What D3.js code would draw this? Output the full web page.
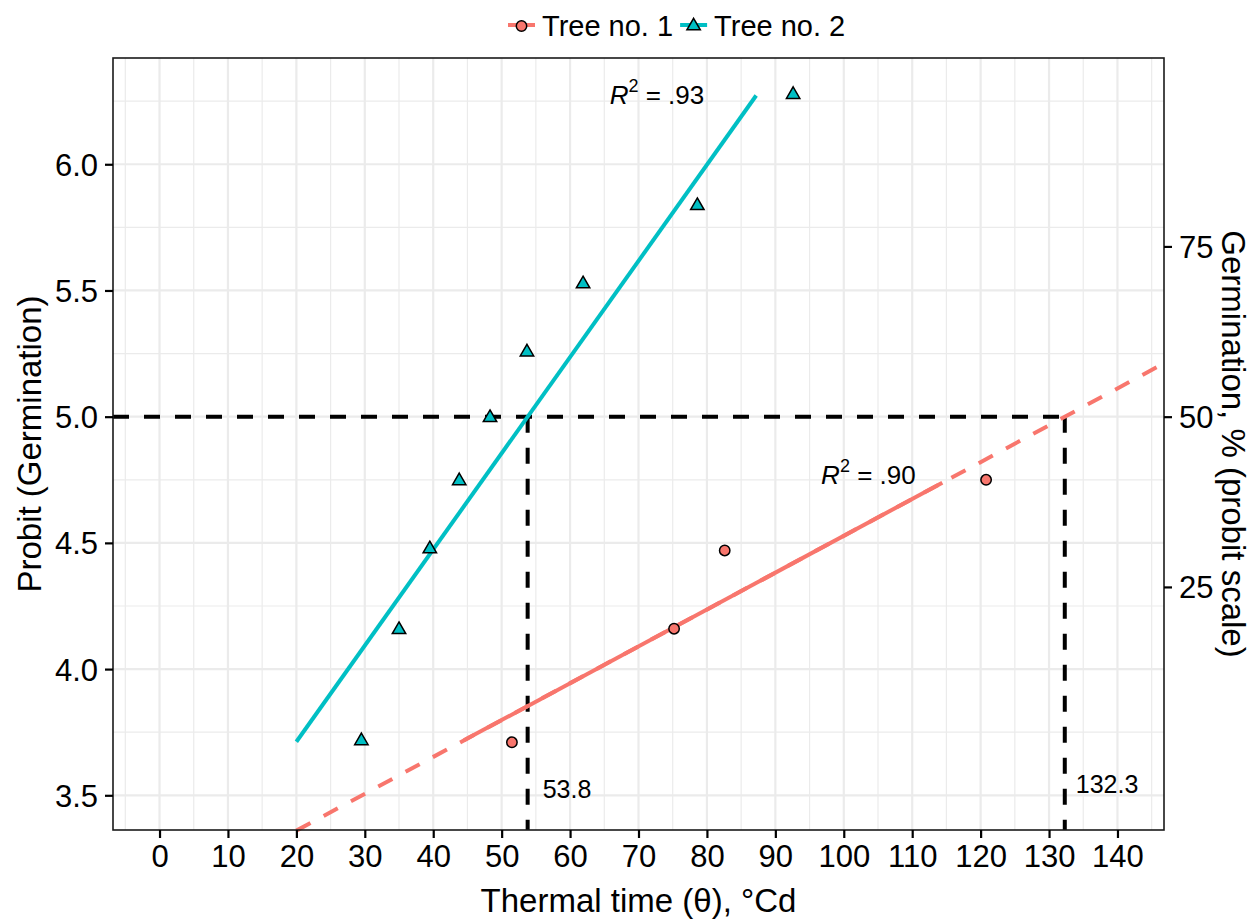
<!DOCTYPE html>
<html>
<head>
<meta charset="utf-8">
<script src="https://cdn.jsdelivr.net/npm/d3@7"></script>
<style>
  html, body { margin: 0; padding: 0; background: #fff; overflow: hidden; }
  svg { display: block; }
  text { font-family: "Liberation Sans", Arial, sans-serif; }
</style>
</head>
<body>
<div id="chart"></div>
<script>
// data
const tree1Time = [51.5, 75.2, 82.6, 120.8];
const tree1Probit = [3.71, 4.16, 4.47, 4.75];
const tree2Time = [29.5, 35.0, 39.5, 43.8, 48.3, 53.7, 61.9, 78.6, 92.6];
const tree2Probit = [3.72, 4.16, 4.48, 4.75, 5.00, 5.26, 5.53, 5.84, 6.28];

// fitted lines (intercept, slope) and the x span they cover
const tree1Fit = [3.068, 0.0146];
const tree1Solid = [44.5, 114.4];
const tree1Dashed = [20, 146.8];
const tree2Fit = [2.950, 0.0381];
const tree2Solid = [20, 87.2];

const t50 = [53.8, 132.3];
const t50Labels = ["53.8", "132.3"];
const r2Labels = [".90", ".93"];

const xTicks = [0, 10, 20, 30, 40, 50, 60, 70, 80, 90, 100, 110, 120, 130, 140];
const yTicks = [3.5, 4.0, 4.5, 5.0, 5.5, 6.0];
const pctTicks = [25, 50, 75];

const width = 1252, height = 921;
const margin = {top: 58, right: 88, bottom: 91, left: 113};
const innerWidth = width - margin.left - margin.right;
const innerHeight = height - margin.top - margin.bottom;

const red = "#F8766D", teal = "#00BFC4";
const tickFont = 31;

// probit helpers
const normCdf = z => {
  const x = Math.abs(z) / Math.SQRT2;
  const t = 1 / (1 + 0.3275911 * x);
  const erf = 1 - (((((1.061405429 * t - 1.453152027) * t) + 1.421413741) * t - 0.284496736) * t + 0.254829592) * t * Math.exp(-x * x);
  return z >= 0 ? 0.5 * (1 + erf) : 0.5 * (1 - erf);
};
const qnorm = p => {
  let lo = -8, hi = 8;
  for (let i = 0; i < 80; i++) {
    const mid = (lo + hi) / 2;
    if (normCdf(mid) < p) lo = mid; else hi = mid;
  }
  return (lo + hi) / 2;
};

const svg = d3.select("#chart")
  .append("svg")
    .attr("width", width)
    .attr("height", height);

const xScale = d3.scaleLinear()
  .domain([-6.8, 146.8])
  .range([0, innerWidth]);

const yScale = d3.scaleLinear()
  .domain([3.3625, 6.421])
  .range([innerHeight, 0]);

const innerChart = svg.append("g")
  .attr("transform", `translate(${margin.left}, ${margin.top})`);

// grid
const xMinor = d3.range(-5, 147, 10);
const yMinor = d3.range(3.75, 6.3, 0.5);

innerChart.append("g").selectAll("line.xminor")
  .data(xMinor)
  .join("line")
    .attr("x1", d => xScale(d)).attr("x2", d => xScale(d))
    .attr("y1", 0).attr("y2", innerHeight)
    .attr("stroke", "#EBEBEB").attr("stroke-width", 1.2);

innerChart.append("g").selectAll("line.yminor")
  .data(yMinor)
  .join("line")
    .attr("y1", d => yScale(d)).attr("y2", d => yScale(d))
    .attr("x1", 0).attr("x2", innerWidth)
    .attr("stroke", "#EBEBEB").attr("stroke-width", 1.2);

innerChart.append("g").selectAll("line.xmajor")
  .data(xTicks)
  .join("line")
    .attr("x1", d => xScale(d)).attr("x2", d => xScale(d))
    .attr("y1", 0).attr("y2", innerHeight)
    .attr("stroke", "#EBEBEB").attr("stroke-width", 2.2);

innerChart.append("g").selectAll("line.ymajor")
  .data(yTicks)
  .join("line")
    .attr("y1", d => yScale(d)).attr("y2", d => yScale(d))
    .attr("x1", 0).attr("x2", innerWidth)
    .attr("stroke", "#EBEBEB").attr("stroke-width", 2.2);

const plot = innerChart.append("g");
const fitY = (fit, x) => fit[0] + fit[1] * x;
const line = d3.line().x(d => xScale(d[0])).y(d => yScale(d[1]));

// reference lines at probit 5 (50 %)
plot.append("path")
  .attr("d", line([[xScale.domain()[0], 5], [t50[1], 5]]))
  .attr("fill", "none").attr("stroke", "#000")
  .attr("stroke-width", 4).attr("stroke-dasharray", "16,15");

plot.selectAll("path.vref")
  .data(t50)
  .join("path")
    .attr("d", d => line([[d, 5], [d, yScale.domain()[0]]]))
    .attr("fill", "none").attr("stroke", "#000")
    .attr("stroke-width", 4).attr("stroke-dasharray", "16,15");

// tree 1 fit: dashed extension + solid part
plot.append("path")
  .attr("d", line(tree1Dashed.map(x => [x, fitY(tree1Fit, x)])))
  .attr("fill", "none").attr("stroke", red)
  .attr("stroke-width", 4).attr("stroke-dasharray", "16,15");

plot.append("path")
  .attr("d", line(tree1Solid.map(x => [x, fitY(tree1Fit, x)])))
  .attr("fill", "none").attr("stroke", red)
  .attr("stroke-width", 4);

plot.append("path")
  .attr("d", line(tree2Solid.map(x => [x, fitY(tree2Fit, x)])))
  .attr("fill", "none").attr("stroke", teal)
  .attr("stroke-width", 4);

// points
const circleSym = d3.symbol(d3.symbolCircle, 85);
const triSym = d3.symbol(d3.symbolTriangle, 78);

plot.selectAll("path.p1")
  .data(tree1Time.map((t, i) => [t, tree1Probit[i]]))
  .join("path")
    .attr("d", circleSym)
    .attr("transform", d => `translate(${xScale(d[0])}, ${yScale(d[1])})`)
    .attr("fill", red).attr("stroke", "#000").attr("stroke-width", 1.5);

plot.selectAll("path.p2")
  .data(tree2Time.map((t, i) => [t, tree2Probit[i]]))
  .join("path")
    .attr("d", triSym)
    .attr("transform", d => `translate(${xScale(d[0])}, ${yScale(d[1]) + 1})`)
    .attr("fill", teal).attr("stroke", "#000").attr("stroke-width", 1.5);

// annotations
const r2 = (x, y, val) => {
  const t = plot.append("text")
    .attr("x", xScale(x)).attr("y", yScale(y))
    .attr("font-size", 26).attr("text-anchor", "middle");
  t.append("tspan").attr("font-style", "italic").text("R");
  t.append("tspan").attr("font-size", 18).attr("dy", -12).text("2");
  t.append("tspan").attr("dy", 12).text(` = ${val}`);
};
r2(103.6, 4.733, r2Labels[0]);
r2(72.7, 6.24, r2Labels[1]);

plot.selectAll("text.t50")
  .data(t50)
  .join("text")
    .attr("x", (d, i) => xScale(d) + (i === 0 ? 15 : 11))
    .attr("y", (d, i) => yScale(i === 0 ? 3.49 : 3.51))
    .attr("font-size", 25)
    .text((d, i) => t50Labels[i]);

// panel border
innerChart.append("rect")
  .attr("width", innerWidth).attr("height", innerHeight)
  .attr("fill", "none").attr("stroke", "#1a1a1a").attr("stroke-width", 1.6);

// axes
const bottomAxis = d3.axisBottom(xScale)
  .tickValues(xTicks)
  .tickSizeOuter(0)
  .tickSize(8)
  .tickPadding(7);

const leftAxis = d3.axisLeft(yScale)
  .tickValues(yTicks)
  .tickFormat(d3.format(".1f"))
  .tickSizeOuter(0)
  .tickSize(8)
  .tickPadding(7);

const rightAxis = d3.axisRight(yScale)
  .tickValues(pctTicks.map(p => 5 + qnorm(p / 100)))
  .tickFormat((d, i) => pctTicks[i])
  .tickSizeOuter(0)
  .tickSize(8)
  .tickPadding(7);

const styleAxis = (g, labelY) => {
  g.select(".domain").remove();
  g.selectAll(".tick line").attr("stroke", "#000").attr("stroke-width", 2.2);
  g.selectAll(".tick text")
    .attr("fill", "#000")
    .attr("font-size", tickFont)
    .attr("font-family", "Liberation Sans, Arial, sans-serif")
    .attr("dy", null)
    .attr("y", labelY);
};

innerChart.append("g")
  .attr("transform", `translate(0, ${innerHeight})`)
  .call(bottomAxis)
  .call(styleAxis, 15 + Math.round(tickFont * 0.71));

innerChart.append("g")
  .call(leftAxis)
  .call(styleAxis, Math.round(tickFont * 0.35));

innerChart.append("g")
  .attr("transform", `translate(${innerWidth}, 0)`)
  .call(rightAxis)
  .call(styleAxis, Math.round(tickFont * 0.35));

// axis titles
svg.append("text")
  .attr("x", margin.left + innerWidth / 2)
  .attr("y", 912)
  .attr("text-anchor", "middle")
  .attr("font-size", 33)
  .text("Thermal time (θ), °Cd");

svg.append("text")
  .attr("transform", `translate(41, ${margin.top + innerHeight / 2}) rotate(-90)`)
  .attr("text-anchor", "middle")
  .attr("font-size", 33)
  .text("Probit (Germination)");

svg.append("text")
  .attr("transform", `translate(1222, ${margin.top + innerHeight / 2}) rotate(90)`)
  .attr("text-anchor", "middle")
  .attr("font-size", 33)
  .text("Germination, % (probit scale)");

// legend
const legendItems = [
  {label: "Tree no. 1", color: red, sym: circleSym},
  {label: "Tree no. 2", color: teal, sym: triSym}
];
const legend = svg.append("g").attr("transform", "translate(508, 25)");
let lx = 0;
legendItems.forEach(item => {
  const g = legend.append("g").attr("transform", `translate(${lx}, 0)`);
  g.append("line")
    .attr("x1", 0).attr("x2", 27)
    .attr("stroke", item.color).attr("stroke-width", 4);
  g.append("path")
    .attr("d", item.sym)
    .attr("transform", "translate(13.5, 1)")
    .attr("fill", item.color).attr("stroke", "#000").attr("stroke-width", 1.5);
  const t = g.append("text")
    .attr("x", 34).attr("y", 10.5)
    .attr("font-size", 29)
    .text(item.label);
  lx += 34 + t.node().getComputedTextLength() + 7;
});
</script>
</body>
</html>
